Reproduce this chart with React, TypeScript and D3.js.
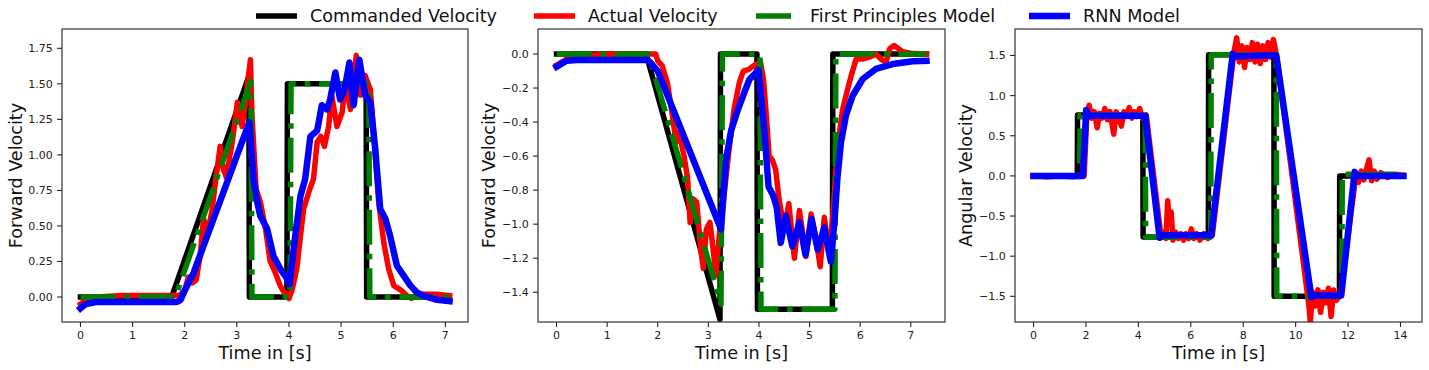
import React from "react";
import * as d3 from "d3";

// ---- data: [time s, value] ----
// panel 1 (forward velocity, first run)
const fwd1Cmd = [[0, 0], [1.75, 0], [3.23, 1.555], [3.24, 0], [3.96, 0], [3.97, 1.5], [5.48, 1.5], [5.49, 0], [7.08, 0]];
const fwd1Act = [[0, -0.05], [0.1, -0.02], [0.3, 0.0], [0.8, 0.01], [1.4, 0.01], [1.9, 0.01], [2.0, 0.05], [2.07, 0.14], [2.15, 0.1], [2.22, 0.12], [2.3, 0.3], [2.36, 0.55], [2.44, 0.46], [2.52, 0.6], [2.59, 0.81], [2.68, 1.06], [2.74, 0.9], [2.8, 0.84], [2.86, 0.98], [2.92, 1.11], [3.01, 1.37], [3.1, 1.2], [3.16, 1.35], [3.26, 1.67], [3.29, 1.28], [3.37, 0.76], [3.45, 0.67], [3.55, 0.48], [3.64, 0.25], [3.74, 0.17], [3.83, 0.08], [3.96, 0.0], [4.0, -0.01], [4.06, 0.05], [4.15, 0.2], [4.28, 0.62], [4.4, 0.76], [4.47, 0.83], [4.54, 1.09], [4.61, 1.13], [4.68, 1.06], [4.76, 1.2], [4.82, 1.42], [4.92, 1.2], [5.02, 1.3], [5.08, 1.51], [5.18, 1.32], [5.29, 1.7], [5.37, 1.42], [5.46, 1.56], [5.56, 1.46], [5.62, 1.18], [5.72, 0.67], [5.82, 0.38], [5.91, 0.2], [6.01, 0.08], [6.14, 0.05], [6.26, 0.01], [6.35, -0.01], [6.45, 0.02], [6.84, 0.02], [7.08, 0.01]];
const fwd1Fpm = [[0, 0], [1.82, 0], [3.27, 1.52], [3.29, 0], [4.02, 0], [4.04, 1.5], [5.53, 1.5], [5.55, 0], [7.08, 0]];
const fwd1Rnn = [[0, -0.08], [0.1, -0.05], [0.3, -0.035], [1.0, -0.035], [1.85, -0.035], [1.92, -0.02], [1.98, 0.03], [2.17, 0.17], [3.24, 1.23], [3.32, 0.83], [3.39, 0.67], [3.45, 0.57], [3.58, 0.48], [3.7, 0.29], [3.83, 0.2], [3.96, 0.13], [4.01, 0.09], [4.12, 0.43], [4.22, 0.71], [4.31, 0.83], [4.41, 1.13], [4.54, 1.17], [4.63, 1.35], [4.73, 1.32], [4.79, 1.39], [4.89, 1.58], [4.98, 1.39], [5.06, 1.45], [5.16, 1.65], [5.24, 1.35], [5.35, 1.67], [5.46, 1.42], [5.56, 1.37], [5.65, 1.06], [5.75, 0.62], [5.85, 0.55], [5.94, 0.43], [6.07, 0.22], [6.2, 0.15], [6.33, 0.08], [6.46, 0.03], [6.65, 0.0], [6.84, -0.02], [7.08, -0.03]];

// panel 2 (forward velocity, reverse run)
const fwd2Cmd = [[0, 0], [1.77, 0], [3.23, -1.56], [3.24, 0], [3.96, 0], [3.97, -1.5], [5.45, -1.5], [5.46, 0], [7.31, 0]];
const fwd2Act = [[0, -0.065], [0.2, -0.03], [0.6, -0.01], [1.0, 0], [1.96, 0], [2.0, -0.04], [2.09, -0.07], [2.19, -0.17], [2.29, -0.36], [2.36, -0.52], [2.42, -0.46], [2.52, -0.6], [2.59, -0.73], [2.64, -0.99], [2.69, -0.85], [2.77, -0.87], [2.85, -1.15], [2.9, -1.26], [2.96, -1.03], [3.03, -0.99], [3.08, -1.11], [3.15, -1.3], [3.22, -1.05], [3.31, -0.83], [3.41, -0.56], [3.51, -0.32], [3.61, -0.17], [3.69, -0.1], [3.8, -0.09], [3.94, -0.06], [4.03, -0.05], [4.09, -0.15], [4.15, -0.38], [4.2, -0.6], [4.26, -0.62], [4.33, -0.68], [4.4, -0.86], [4.5, -1.03], [4.59, -0.88], [4.7, -1.2], [4.8, -0.92], [4.93, -1.19], [5.03, -0.94], [5.13, -1.09], [5.21, -1.25], [5.29, -0.96], [5.4, -1.19], [5.47, -0.9], [5.55, -0.56], [5.65, -0.33], [5.72, -0.245], [5.82, -0.13], [5.92, -0.03], [6.05, -0.03], [6.21, -0.015], [6.31, 0.0], [6.41, -0.03], [6.51, -0.05], [6.58, 0.03], [6.67, 0.05], [6.84, 0.014], [7.0, 0.005], [7.31, 0.0]];
const fwd2Fpm = [[0, 0], [1.82, 0], [3.25, -1.47], [3.28, 0], [4.02, 0], [4.04, -1.5], [5.5, -1.5], [5.52, 0], [7.31, 0]];
const fwd2Rnn = [[0, -0.075], [0.2, -0.04], [0.4, -0.035], [1.8, -0.035], [1.87, -0.055], [2.0, -0.1], [2.23, -0.27], [3.25, -1.03], [3.35, -0.62], [3.45, -0.45], [3.58, -0.33], [3.68, -0.25], [3.81, -0.15], [3.94, -0.11], [3.99, -0.095], [4.1, -0.43], [4.19, -0.78], [4.28, -0.83], [4.35, -0.9], [4.43, -1.11], [4.53, -0.95], [4.66, -1.13], [4.8, -0.99], [4.92, -1.18], [5.04, -0.97], [5.16, -1.15], [5.29, -1.02], [5.42, -1.22], [5.49, -0.99], [5.55, -0.73], [5.62, -0.52], [5.72, -0.36], [5.85, -0.245], [6.05, -0.147], [6.31, -0.088], [6.64, -0.059], [7.04, -0.043], [7.31, -0.04]];

// panel 3 (angular velocity)
const angCmd = [[0, 0], [1.67, 0], [1.68, 0.76], [4.17, 0.76], [4.18, -0.76], [6.67, -0.76], [6.68, 1.51], [9.17, 1.51], [9.18, -1.5], [11.67, -1.5], [11.68, 0], [14.11, 0]];
const angAct = [[0, 0], [0.5, -0.01], [1.0, 0.0], [1.5, -0.01], [1.93, 0], [2.03, 0.72], [2.12, 0.88], [2.22, 0.72], [2.32, 0.8], [2.43, 0.6], [2.52, 0.78], [2.62, 0.72], [2.72, 0.84], [2.82, 0.7], [2.92, 0.8], [3.06, 0.52], [3.15, 0.8], [3.25, 0.74], [3.35, 0.62], [3.45, 0.8], [3.55, 0.74], [3.65, 0.85], [3.75, 0.72], [3.85, 0.8], [3.95, 0.74], [4.05, 0.84], [4.15, 0.72], [4.3, 0.76], [4.87, -0.77], [4.95, -0.7], [5.05, -0.78], [5.12, -0.31], [5.18, -0.6], [5.25, -0.45], [5.32, -0.8], [5.42, -0.7], [5.52, -0.78], [5.62, -0.72], [5.72, -0.8], [5.82, -0.72], [5.92, -0.78], [6.02, -0.66], [6.12, -0.78], [6.22, -0.72], [6.35, -0.8], [6.5, -0.72], [6.65, -0.78], [6.82, -0.74], [7.65, 1.55], [7.75, 1.72], [7.85, 1.42], [7.95, 1.62], [8.05, 1.35], [8.15, 1.6], [8.25, 1.45], [8.35, 1.66], [8.45, 1.42], [8.55, 1.64], [8.65, 1.4], [8.75, 1.62], [8.85, 1.45], [8.95, 1.66], [9.05, 1.48], [9.15, 1.7], [9.28, 1.48], [10.5, -1.6], [10.56, -1.82], [10.65, -1.45], [10.75, -1.62], [10.85, -1.42], [10.95, -1.7], [11.05, -1.45], [11.15, -1.58], [11.25, -1.4], [11.35, -1.75], [11.45, -1.42], [11.55, -1.55], [11.72, -1.48], [12.3, 0.02], [12.4, -0.08], [12.5, 0.06], [12.6, -0.05], [12.7, 0.08], [12.8, 0.2], [12.9, -0.06], [13.0, 0.06], [13.1, -0.04], [13.25, 0.04], [13.5, -0.02], [13.8, 0.02], [14.11, 0.01]];
const angFpm = [[0, 0], [1.76, 0], [1.78, 0.76], [4.26, 0.76], [4.28, -0.76], [6.76, -0.76], [6.78, 1.51], [9.26, 1.51], [9.28, -1.5], [11.76, -1.5], [11.78, 0.02], [14.11, 0.02]];
const angRnn = [[0, 0], [1.88, 0], [2.01, 0.82], [2.1, 0.75], [4.26, 0.75], [4.81, -0.77], [4.9, -0.74], [6.78, -0.74], [7.6, 1.52], [7.7, 1.49], [9.26, 1.5], [10.6, -1.51], [10.7, -1.49], [11.74, -1.49], [12.25, 0.05], [12.35, 0.0], [14.11, 0.0]];

// ticks
const fwd1XTicks = [0, 1, 2, 3, 4, 5, 6, 7];
const fwd1YTicks = [0, 0.25, 0.5, 0.75, 1.0, 1.25, 1.5, 1.75];
const fwd2XTicks = [0, 1, 2, 3, 4, 5, 6, 7];
const fwd2YTicks = [-1.4, -1.2, -1.0, -0.8, -0.6, -0.4, -0.2, 0.0];
const angXTicks = [0, 2, 4, 6, 8, 10, 12, 14];
const angYTicks = [-1.5, -1.0, -0.5, 0.0, 0.5, 1.0, 1.5];

const legendLabels = ["Commanded Velocity", "Actual Velocity", "First Principles Model", "RNN Model"];

const FONT = "DejaVu Sans, sans-serif";
const TOP = 29;
const BOTTOM = 322;
const DASHDOT = "35,9,5.5,9";

const styles = [
  { color: "black", width: 5.5, dash: null },
  { color: "red", width: 5.5, dash: null },
  { color: "green", width: 5.5, dash: DASHDOT },
  { color: "blue", width: 6.5, dash: null },
];

function Panel(props) {
  const { id, x0, x1, xDomain, yDomain, xTicks, yTicks, yFmt, yLabel, yLabelX, data } = props;
  const xs = d3.scaleLinear().domain(xDomain).range([x0, x1]);
  const ys = d3.scaleLinear().domain(yDomain).range([BOTTOM, TOP]);
  const line = d3.line().x((d) => xs(d[0])).y((d) => ys(d[1]));
  const fmt = d3.format(yFmt);
  return (
    <g>
      <defs>
        <clipPath id={`clip${id}`}>
          <rect x={x0} y={TOP} width={x1 - x0} height={BOTTOM - TOP} />
        </clipPath>
      </defs>
      <g clipPath={`url(#clip${id})`}>
        {data.map((d, i) => (
          <path
            key={i}
            d={line(d)}
            fill="none"
            stroke={styles[i].color}
            strokeWidth={styles[i].width}
            strokeDasharray={styles[i].dash || undefined}
            strokeLinejoin="round"
            strokeLinecap={styles[i].dash ? "butt" : "square"}
          />
        ))}
      </g>
      <rect x={x0} y={TOP} width={x1 - x0} height={BOTTOM - TOP} fill="none" stroke="#222" strokeWidth={1.1} />
      {xTicks.map((t) => (
        <g key={`x${t}`}>
          <line x1={xs(t)} x2={xs(t)} y1={BOTTOM} y2={BOTTOM + 4.9} stroke="#222" strokeWidth={1.1} />
          <text x={xs(t)} y={BOTTOM + 17} textAnchor="middle" fontSize={11} fontFamily={FONT} fill="#222">
            {t}
          </text>
        </g>
      ))}
      {yTicks.map((t) => (
        <g key={`y${t}`}>
          <line x1={x0 - 4.9} x2={x0} y1={ys(t)} y2={ys(t)} stroke="#222" strokeWidth={1.1} />
          <text x={x0 - 9.2} y={ys(t)} dy="0.36em" textAnchor="end" fontSize={11} fontFamily={FONT} fill="#222">
            {fmt(t)}
          </text>
        </g>
      ))}
      <text x={(x0 + x1) / 2} y={359} textAnchor="middle" fontSize={17.6} fontFamily={FONT} fill="#111">
        Time in [s]
      </text>
      <text
        transform={`translate(${yLabelX},${(TOP + BOTTOM) / 2}) rotate(-90)`}
        textAnchor="middle"
        fontSize={17.6}
        fontFamily={FONT}
        fill="#111"
      >
        {yLabel}
      </text>
    </g>
  );
}

const legendX = [256, 534, 756, 1029];

export default function App() {
  return (
    <svg width={1429} height={370} style={{ position: "absolute", left: 0, top: 0, background: "white" }}>
      <Panel
        id={1}
        x0={62}
        x1={468}
        xDomain={[-0.354, 7.434]}
        yDomain={[-0.176, 1.886]}
        xTicks={fwd1XTicks}
        yTicks={fwd1YTicks}
        yFmt=".2f"
        yLabel="Forward Velocity"
        yLabelX={21.5}
        data={[fwd1Cmd, fwd1Act, fwd1Fpm, fwd1Rnn]}
      />
      <Panel
        id={2}
        x0={538}
        x1={945}
        xDomain={[-0.366, 7.676]}
        yDomain={[-1.575, 0.147]}
        xTicks={fwd2XTicks}
        yTicks={fwd2YTicks}
        yFmt=".1f"
        yLabel="Forward Velocity"
        yLabelX={495}
        data={[fwd2Cmd, fwd2Act, fwd2Fpm, fwd2Rnn]}
      />
      <Panel
        id={3}
        x0={1015}
        x1={1422}
        xDomain={[-0.706, 14.82]}
        yDomain={[-1.82, 1.83]}
        xTicks={angXTicks}
        yTicks={angYTicks}
        yFmt=".1f"
        yLabel="Angular Velocity"
        yLabelX={971.6}
        data={[angCmd, angAct, angFpm, angRnn]}
      />
      {legendLabels.map((label, i) => (
        <g key={label}>
          <line
            x1={legendX[i]}
            x2={legendX[i] + 41}
            y1={16}
            y2={16}
            stroke={styles[i].color}
            strokeWidth={styles[i].width}
            strokeDasharray={styles[i].dash || undefined}
          />
          <text x={legendX[i] + 54} y={21.5} fontSize={17.6} fontFamily={FONT} fill="#111">
            {label}
          </text>
        </g>
      ))}
    </svg>
  );
}
